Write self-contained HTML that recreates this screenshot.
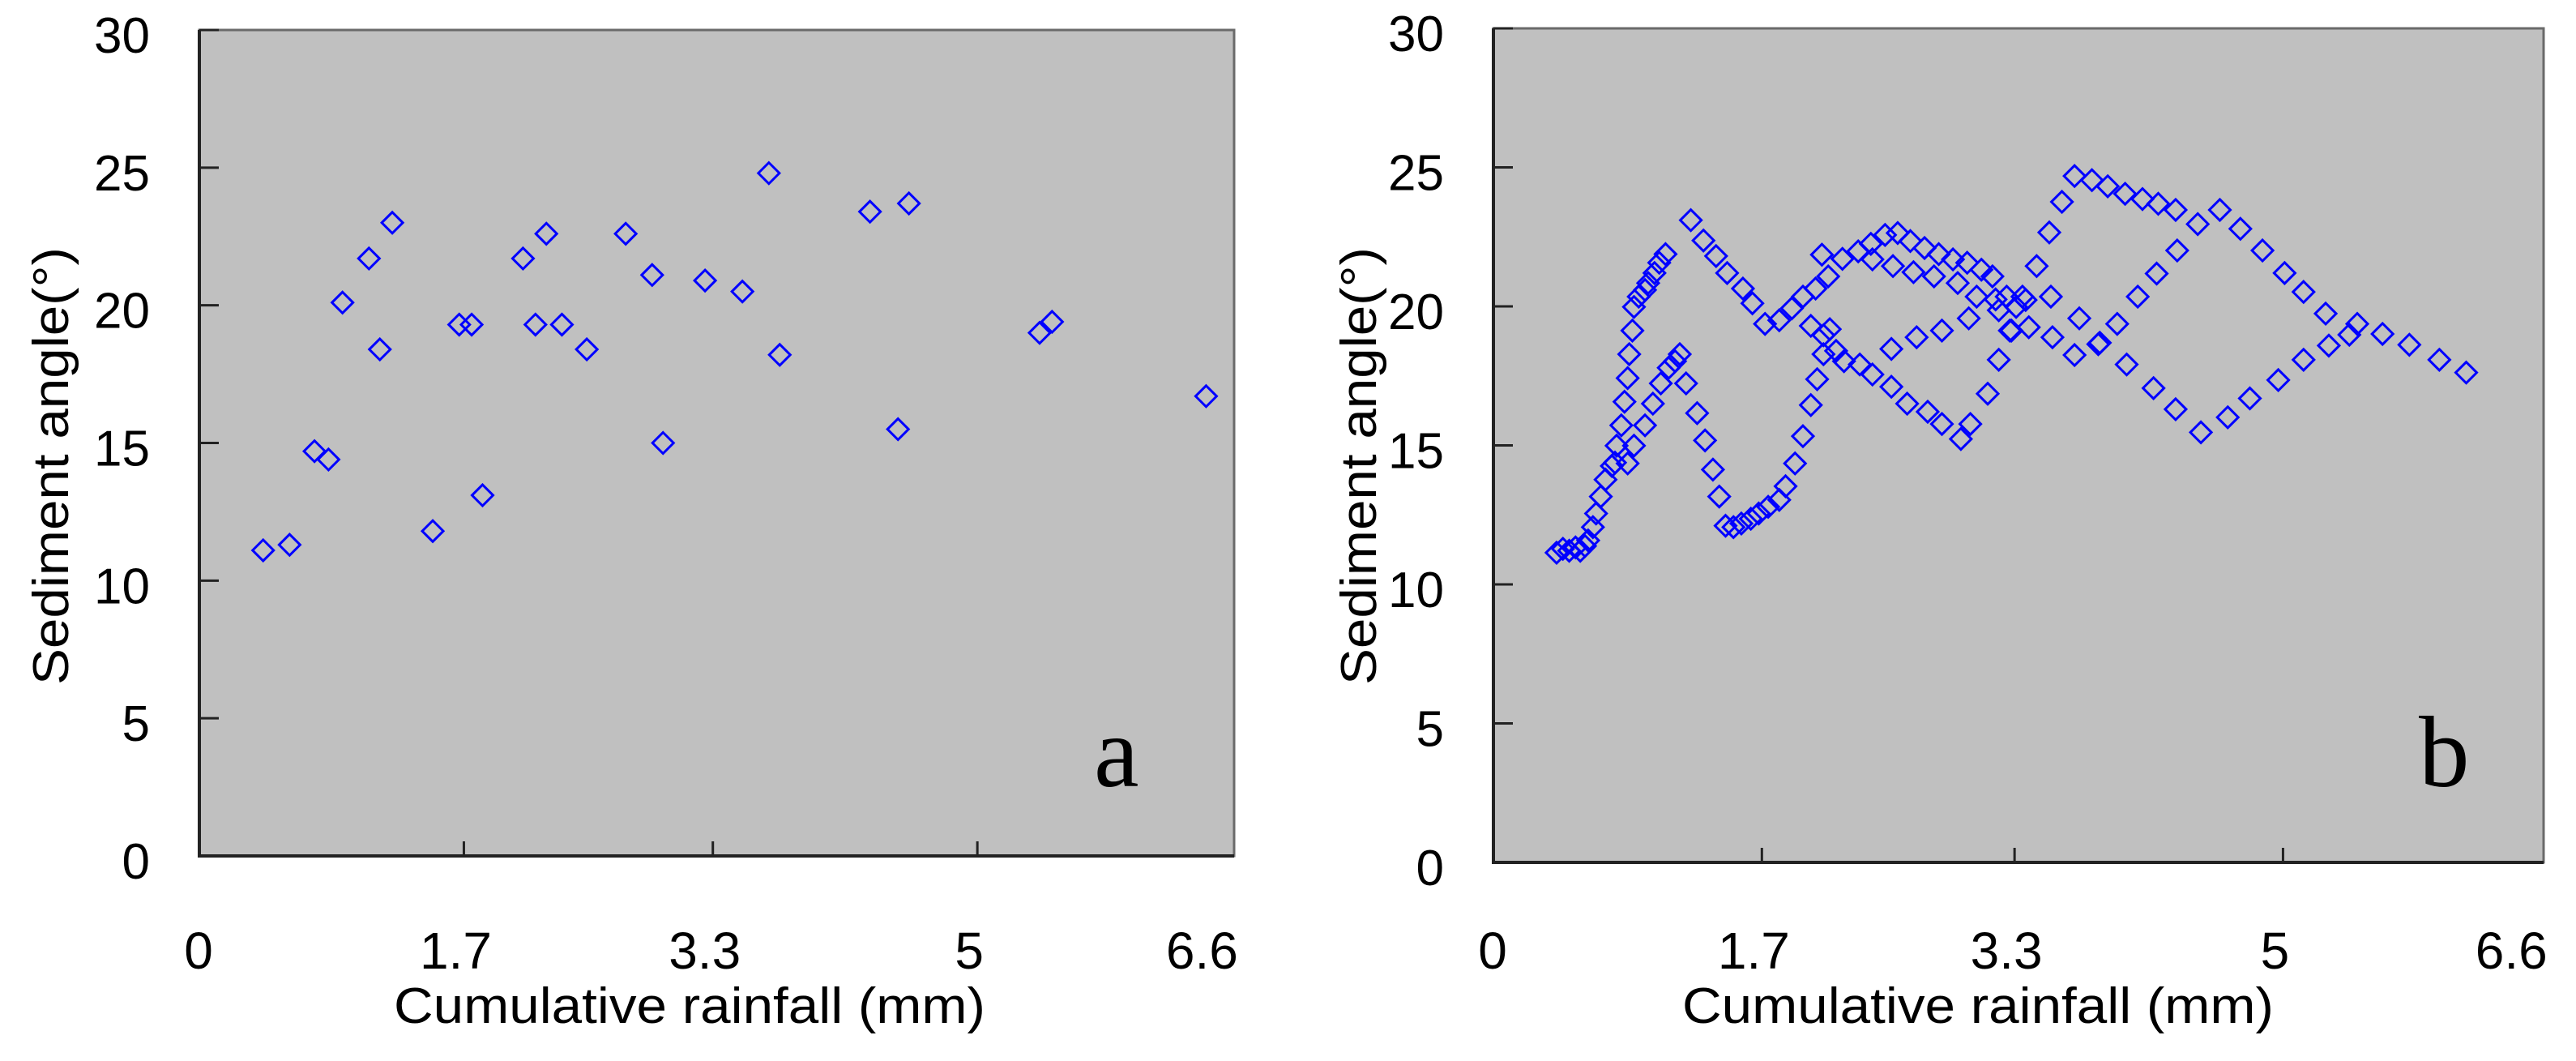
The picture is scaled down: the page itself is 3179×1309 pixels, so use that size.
<!DOCTYPE html>
<html><head><meta charset="utf-8"><style>html,body{margin:0;padding:0;background:#fff}svg{display:block}</style></head>
<body>
<svg id="fig" xmlns="http://www.w3.org/2000/svg" width="3179" height="1309" viewBox="0 0 3179 1309" font-family="Liberation Sans, sans-serif">
<rect width="3179" height="1309" fill="#fff"/>
</svg>
<script>
// Panel a data
const xA = [0.41,0.58,0.74,0.83,0.92,1.09,1.16,1.24,1.50,1.67,1.75,1.82,2.08,2.16,2.23,2.33,2.49,2.74,2.91,2.98,3.25,3.49,3.66,3.73,4.31,4.49,4.56,5.40,5.48,6.47];
const yA = [11.1,11.3,14.7,14.4,20.1,21.7,18.4,23.0,11.8,19.3,19.3,13.1,21.7,19.3,22.6,19.3,18.4,22.6,21.1,15.0,20.9,20.5,24.8,18.2,23.4,15.5,23.7,19.0,19.4,16.7];
// Panel b data
const xB = [0.40,0.44,0.48,0.52,0.55,0.58,0.60,
0.63,0.65,0.68,0.71,0.75,0.78,0.81,0.83,0.85,0.86,0.88,0.89,0.92,0.96,0.98,1.02,1.05,1.09,
0.77,0.85,0.89,0.96,1.01,1.06,1.11,1.15,1.18,
1.22,1.29,1.34,1.39,1.43,1.47,1.52,1.57,1.63,1.68,1.74,1.81,1.85,1.91,1.96,2.01,2.05,2.09,2.13,
1.25,1.33,1.41,1.48,1.58,1.64,1.72,1.81,1.89,1.96,2.04,2.12,2.21,2.31,2.39,2.48,2.56,2.64,2.73,2.82,2.91,3.00,3.09,3.16,3.25,3.31,
2.08,2.01,2.09,2.17,2.22,2.32,2.40,2.52,2.62,2.75,2.84,2.96,3.02,3.13,3.20,3.27,3.35,3.44,3.52,3.60,3.68,3.79,3.89,4.00,4.11,4.21,4.32,4.46,4.60,4.73,4.87,5.01,5.13,5.27,5.42,5.47,5.63,5.80,5.99,6.16,
2.40,2.53,2.66,2.79,2.94,3.06,3.20,3.28,3.39,3.54,3.68,3.83,3.95,4.08,4.20,4.33,
2.52,2.68,2.84,3.01,3.18,3.37,3.53,3.71,3.84,4.01,4.18,4.32,4.48,4.65,4.79,4.97,5.13,5.29];
const yB = [11.14,11.28,11.21,11.33,11.21,11.38,11.58,
12.06,12.55,13.16,13.77,14.26,14.99,15.72,16.57,17.42,18.28,19.13,19.98,20.35,20.59,20.84,21.20,21.57,21.88,
14.38,14.35,14.99,15.72,16.50,17.23,17.79,18.03,18.28,
17.23,16.16,15.18,14.13,13.16,12.11,12.06,12.19,12.36,12.55,12.79,13.04,13.53,14.35,15.33,16.45,17.38,18.28,19.18,
23.10,22.37,21.81,21.20,20.64,20.11,19.37,19.50,19.93,20.35,20.64,21.08,21.71,21.98,22.25,22.57,22.64,22.35,22.10,21.88,21.69,21.57,21.32,21.08,20.35,19.98,
21.86,19.30,18.96,18.40,18.03,17.91,17.55,17.11,16.50,16.21,15.77,15.23,15.77,16.86,18.08,19.13,20.35,21.45,22.66,23.76,24.69,24.54,24.32,24.05,23.86,23.69,23.47,22.96,23.47,22.79,22.01,21.20,20.52,19.74,18.98,19.37,19.01,18.62,18.08,17.62,
21.69,21.45,21.23,21.08,20.84,20.35,19.86,19.13,19.25,18.89,18.25,18.64,19.37,20.35,21.18,22.01,
18.47,18.89,19.13,19.57,20.25,20.23,20.35,19.57,18.69,17.91,17.06,16.30,15.47,16.01,16.69,17.35,18.08,18.59];
const xTicks = [0,1.7,3.3,5,6.6];
const xTickLabels = ["0","1.7","3.3","5","6.6"];
const yTicks = [0,5,10,15,20,25,30];
const yTickLabels = ["0","5","10","15","20","25","30"];

const NS = "http://www.w3.org/2000/svg";
const svg = document.getElementById('fig');
function mk(tag, attrs, parent){const e=document.createElementNS(NS,tag);for(const k in attrs)e.setAttribute(k,attrs[k]);(parent||svg).appendChild(e);return e;}

function panel(id, L, R, T, B, xs, ys, letter, letterX, titleX, ytX){
  const g = mk('g',{});
  
  
  const xMax = 6.65, yMax = 30;
  const sx = v => L + v/xMax*(R-L);
  const sy = v => B - v/yMax*(B-T);
  const bg = mk('rect',{x:L,y:T,width:R-L,height:B-T,fill:'#c0c0c0',stroke:'#6a6a6a','stroke-width':3},g);
  
  
  const ax = mk('path',{d:`M${L},${T} L${L},${B} L${R},${B}`,fill:'none',stroke:'#222','stroke-width':4},g);
  
  
  yTicks.forEach((v,i)=>{
    mk('line',{x1:L,x2:L+24,y1:sy(v),y2:sy(v),stroke:'#222','stroke-width':3},g);
    const t = mk('text',{x:L-61,y:sy(v)+28,'text-anchor':'end','font-size':62,fill:'#000'},g);
    t.textContent = yTickLabels[i];
    
    
  });
  xTicks.forEach((v,i)=>{
    if(i>0 && i<xTicks.length-1) mk('line',{x1:sx(v),x2:sx(v),y1:B,y2:B-18,stroke:'#222','stroke-width':3},g);
    const t = mk('text',{x:sx(v)-(i===0?1:(i===xTicks.length-1?30:10)),y:1195,'text-anchor':'middle','font-size':64,fill:'#000'},g);
    t.textContent = xTickLabels[i];
    
    
  });
  const xt = mk('text',{x:titleX,y:1262,'text-anchor':'middle','font-size':62,fill:'#000',textLength:730,lengthAdjust:'spacingAndGlyphs'},g);
  xt.textContent = 'Cumulative rainfall (mm)';
  
  
  const yt = mk('text',{x:0,y:0,transform:`translate(${ytX},575) rotate(-90)`,'text-anchor':'middle','font-size':62,fill:'#000',textLength:540,lengthAdjust:'spacingAndGlyphs'},g);
  yt.textContent = 'Sediment angle(°)';
  
  
  xs.forEach((xv,i)=>{
    const cx = sx(xv), cy = sy(ys[i]), h = 13;
    const p = mk('path',{d:`M${cx},${cy-h} L${cx+h},${cy} L${cx},${cy+h} L${cx-h},${cy} Z`,fill:'none',stroke:'#0000ff','stroke-width':3},g);
    
    
  });
  const lt = mk('text',{x:letterX,y:970,'font-size':125,'font-family':'Liberation Serif, serif',fill:'#000'},g);
  lt.textContent = letter;
  
  
}
panel('a', 246, 1523, 37, 1056, xA, yA, 'a', 1350, 851, 84);
panel('b', 1843, 3139, 35, 1064, xB, yB, 'b', 2985, 2441, 1698);
</script>
</body></html>
